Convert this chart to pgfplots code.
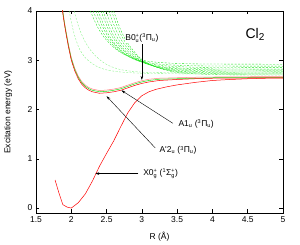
\documentclass[border=0pt]{standalone}
\usepackage{pgfplots}
\pgfplotsset{compat=1.18}
\usepackage{fontspec}
\setmainfont{Liberation Sans}
\usetikzlibrary{arrows.meta,calc}
\definecolor{gr}{rgb}{0.1,0.9,0.1}
\definecolor{lgr}{rgb}{0.5,0.95,0.5}
\definecolor{pk}{rgb}{1,0.5,0.5}
\newcommand{\s}[1]{\mbox{\fontsize{5.5}{6}\selectfont #1}}
\newcommand{\lab}{\fontsize{8.5}{10}\selectfont}
\begin{document}
\begin{tikzpicture}
\begin{axis}[
  scale only axis, width=247pt, height=202pt,
  xmin=1.5, xmax=5, ymin=-0.1, ymax=4,
  xtick={1.5,2,2.5,3,3.5,4,4.5,5}, ytick={0,1,2,3,4},
  tick align=inside, major tick length=3.5pt,
  /pgf/number format/assume math mode=true,
  ticklabel style={font=\lab},
  label style={font=\lab},
  xlabel={R (Å)}, ylabel={Excitation energy (eV)},
  xlabel style={at={(axis description cs:0.5,-0.119)}, anchor=center},
  ylabel style={at={(axis description cs:-0.113,0.5)}, anchor=center},
  axis line style={line width=0.6pt},
  tick style={black, line width=0.5pt},
  every axis plot/.append style={line width=0.5pt},
]
% repulsive green dashed states
\pgfplotsset{dsh/.style={gr, smooth, tension=0.5, line width=0.35pt, dash pattern=on 2pt off 1.5pt}}
\addplot[dsh] coordinates {(2.27,4) (2.37,3.681) (2.47,3.457) (2.62,3.238) (2.77,3.108) (3.02,2.998) (3.27,2.953) (3.77,2.926) (5,2.92)};
\addplot[dsh] coordinates {(2.31,4) (2.41,3.670) (2.51,3.437) (2.66,3.209) (2.81,3.075) (3.06,2.961) (3.31,2.914) (3.81,2.886) (5,2.88)};
\addplot[dsh] coordinates {(2.35,4) (2.45,3.661) (2.55,3.422) (2.70,3.188) (2.85,3.050) (3.10,2.933) (3.35,2.885) (3.85,2.856) (5,2.85)};
\addplot[dsh] coordinates {(2.38,4) (2.48,3.652) (2.58,3.406) (2.73,3.167) (2.88,3.025) (3.13,2.905) (3.38,2.856) (3.88,2.826) (5,2.82)};
\addplot[dsh] coordinates {(2.42,4) (2.52,3.646) (2.62,3.396) (2.77,3.153) (2.92,3.009) (3.17,2.887) (3.42,2.836) (3.92,2.806) (5,2.80)};
\addplot[dsh] coordinates {(2.45,4) (2.55,3.640) (2.65,3.386) (2.80,3.139) (2.95,2.992) (3.20,2.868) (3.45,2.817) (3.95,2.786) (5,2.78)};
\addplot[dsh] coordinates {(2.49,4) (2.59,3.634) (2.69,3.376) (2.84,3.125) (2.99,2.976) (3.24,2.850) (3.49,2.797) (3.99,2.766) (5,2.76)};
\addplot[dsh] coordinates {(2.53,4) (2.63,3.628) (2.73,3.366) (2.88,3.110) (3.03,2.959) (3.28,2.831) (3.53,2.778) (4.03,2.747) (5,2.74)};
\addplot[dsh] coordinates {(2.57,4) (2.67,3.622) (2.77,3.356) (2.92,3.096) (3.07,2.943) (3.32,2.813) (3.57,2.759) (4.07,2.727) (5,2.72)};
\addplot[dsh] coordinates {(2.60,4) (2.70,3.617) (2.80,3.346) (2.95,3.082) (3.10,2.926) (3.35,2.794) (3.60,2.739) (4.10,2.707) (5,2.70)};
% lighter dashed states
\addplot[lgr, smooth, tension=0.5, line width=0.35pt, dash pattern=on 2pt off 1.5pt] coordinates {(1.97,4.0) (2.02,3.65) (2.07,3.4) (2.12,3.22) (2.2,3.05) (2.3,2.93) (2.4,2.85) (2.55,2.79) (2.8,2.75) (3.2,2.73) (4,2.72) (5,2.72)};
\addplot[lgr, smooth, tension=0.5, line width=0.35pt, dash pattern=on 2pt off 1.5pt] coordinates {(2.04,4.0) (2.1,3.7) (2.17,3.45) (2.25,3.25) (2.35,3.08) (2.45,2.96) (2.55,2.88) (2.7,2.81) (2.9,2.77) (3.2,2.75) (4,2.74) (5,2.74)};
% bound states
\addplot[pk] coordinates {(1.87,4.105) (1.90,3.805) (1.93,3.555) (1.96,3.325) (2.00,3.055) (2.05,2.835) (2.10,2.675) (2.15,2.565) (2.20,2.495) (2.25,2.445) (2.30,2.415) (2.40,2.385) (2.50,2.395) (2.60,2.415) (2.70,2.445) (2.80,2.495) (2.90,2.545) (3.00,2.585) (3.10,2.615) (3.25,2.635) (3.50,2.645) (3.75,2.655) (4.00,2.66) (4.50,2.665) (5.00,2.67)};
\addplot[gr] coordinates {(1.87,4.08) (1.90,3.78) (1.93,3.53) (1.96,3.30) (2.00,3.03) (2.05,2.81) (2.10,2.65) (2.15,2.54) (2.20,2.47) (2.25,2.42) (2.30,2.39) (2.40,2.36) (2.50,2.37) (2.60,2.39) (2.70,2.42) (2.80,2.47) (2.90,2.52) (3.00,2.56) (3.10,2.59) (3.25,2.615) (3.50,2.625) (3.75,2.635) (4.00,2.645) (4.50,2.65) (5.00,2.655)};
\addplot[red] coordinates {(1.87,4.05) (1.90,3.75) (1.93,3.50) (1.96,3.27) (2.00,3.00) (2.05,2.78) (2.10,2.62) (2.15,2.51) (2.20,2.44) (2.25,2.39) (2.30,2.36) (2.40,2.33) (2.50,2.34) (2.60,2.36) (2.70,2.39) (2.80,2.44) (2.90,2.49) (3.00,2.53) (3.10,2.56) (3.25,2.59) (3.50,2.61) (3.75,2.625) (4.00,2.635) (4.50,2.64) (5.00,2.645)};
% ground state X
\addplot[red] coordinates {(1.77,0.57) (1.82,0.33) (1.88,0.07) (1.94,0.02) (2.0,0.0) (2.1,0.11) (2.2,0.29) (2.3,0.55) (2.4,0.85) (2.5,1.11) (2.6,1.36) (2.7,1.65) (2.8,1.93) (2.9,2.14) (3.0,2.28) (3.1,2.36) (3.2,2.41) (3.35,2.46) (3.5,2.5) (3.75,2.55) (4.0,2.59) (4.25,2.61) (4.5,2.625) (4.75,2.635) (5.0,2.64)};
% annotations
\node[font=\lab, anchor=center, fill=white, inner sep=0.5pt] at (axis cs:3.0,3.45) {B0$_{\s{u}}^{\s{+}}$($^{\s{3}}$Π$_{\s{u}}$)};
\draw[-{Stealth[length=4pt,width=2.5pt]}, line width=0.4pt] (axis cs:3.0,3.33) -- (axis cs:3.0,2.6);
\node[font=\lab, anchor=west] at (axis cs:3.47,1.70) {A1$_{\s{u}}$ ($^{\s{3}}$Π$_{\s{u}}$)};
\draw[-{Stealth[length=4pt,width=2.5pt]}, line width=0.4pt] (axis cs:3.44,1.72) -- (axis cs:2.71,2.39);
\node[font=\lab, anchor=west] at (axis cs:3.2,1.17) {A\textquotesingle 2$_{\s{u}}$ ($^{\s{3}}$Π$_{\s{u}}$)};
\draw[-{Stealth[length=4pt,width=2.5pt]}, line width=0.4pt] (axis cs:3.19,1.22) -- (axis cs:2.5,2.27);
\node[font=\lab, anchor=west] at (axis cs:2.97,0.70) {X0$_{\s{g}}^{\s{+}}$ ($^{\s{1}}$Σ$_{\s{g}}^{\s{+}}$)};
\draw[-{Stealth[length=4pt,width=2.5pt]}, line width=0.4pt] (axis cs:2.95,0.70) -- (axis cs:2.34,0.70);
\node[font=\fontsize{14}{16}\selectfont, anchor=west] at (axis cs:4.42,3.53) {Cl$_{\mbox{\fontsize{10}{10}\selectfont 2}}$};
\end{axis}
\pgfresetboundingbox
\path[use as bounding box] ($(current axis.south west)+(-36pt,-32pt)$) rectangle ($(current axis.north east)+(17pt,11pt)$);
\end{tikzpicture}
\end{document}
